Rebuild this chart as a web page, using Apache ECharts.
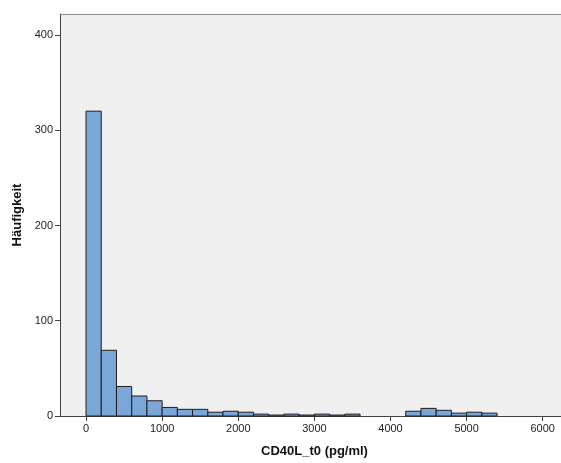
<!DOCTYPE html>
<html>
<head>
<meta charset="utf-8">
<script src="https://cdn.jsdelivr.net/npm/echarts@6/dist/echarts.min.js"></script>
<style>
  html, body { margin: 0; padding: 0; background: #fff; }
  #hist { width: 561px; height: 463px; }
</style>
</head>
<body>
<div id="hist"></div>
<script>
// histogram bins (width 200 pg/ml), counts
var binWidth = 200;
var binStarts = [0, 200, 400, 600, 800, 1000, 1200, 1400, 1600, 1800, 2000, 2200, 2400, 2600,
                 2800, 3000, 3200, 3400, 3600, 3800, 4000, 4200, 4400, 4600, 4800, 5000, 5200];
var counts = [320, 69, 31, 21, 16, 9, 7, 7, 4, 5, 4, 2, 1, 2,
              1, 2, 1, 2, 0, 0, 0, 5, 8, 6, 3, 4, 3];
var xTicks = [0, 1000, 2000, 3000, 4000, 5000, 6000];
var yTicks = [0, 100, 200, 300, 400];

var font = "'Liberation Sans', Arial, sans-serif";
var xMin = -342, xMax = 6240;

var data = [];
for (var i = 0; i < binStarts.length; i++) {
  if (counts[i] > 0) data.push([binStarts[i], counts[i]]);
}

var myChart = echarts.init(document.getElementById('hist'));

var option = {
  animation: false,
  grid: {
    left: 60, top: 14, right: 0, bottom: 45,
    show: true,
    backgroundColor: '#f0f0f0',
    borderWidth: 0
  },
  xAxis: [{
    type: 'value',
    min: xMin,
    max: xMax,
    name: 'CD40L_t0 (pg/ml)',
    nameLocation: 'middle',
    nameGap: 29,
    nameTextStyle: { fontFamily: font, fontSize: 13, fontWeight: 'bold', color: '#111', padding: [0, 0, 0, 8] },
    axisLine: { show: true, onZero: false, lineStyle: { color: '#444', width: 1 } },
    axisTick: { show: true, length: 5, customValues: xTicks, lineStyle: { color: '#444' } },
    axisLabel: { customValues: xTicks, formatter: function (v) { return String(v); },
                 fontFamily: font, fontSize: 11, color: '#222', margin: 7 },
    splitLine: { show: false }
  }, {
    // top frame line only
    type: 'value',
    position: 'top',
    min: xMin,
    max: xMax,
    axisLine: { show: true, onZero: false, lineStyle: { color: '#8a8a8a', width: 1 } },
    axisTick: { show: false },
    axisLabel: { show: false },
    splitLine: { show: false }
  }],
  yAxis: {
    type: 'value',
    min: 0,
    max: 422,
    name: 'Häufigkeit',
    nameLocation: 'middle',
    nameGap: 33,
    nameTextStyle: { fontFamily: font, fontSize: 13, fontWeight: 'bold', color: '#111' },
    axisLine: { show: true, onZero: false, lineStyle: { color: '#444', width: 1 } },
    axisTick: { show: true, length: 5, customValues: yTicks, lineStyle: { color: '#444' } },
    axisLabel: { customValues: yTicks, formatter: function (v) { return String(v); },
                 fontFamily: font, fontSize: 11, color: '#222', margin: 7 },
    splitLine: { show: false }
  },
  series: [{
    type: 'custom',
    xAxisIndex: 0,
    data: data,
    encode: { x: 0, y: 1 },
    renderItem: function (params, api) {
      var x0 = api.value(0);
      var c = api.value(1);
      var p0 = api.coord([x0, c]);
      var p1 = api.coord([x0 + binWidth, 0]);
      return {
        type: 'rect',
        shape: { x: p0[0], y: p0[1], width: p1[0] - p0[0], height: p1[1] - p0[1] },
        style: { fill: '#7aa7d8', stroke: '#1e1e1e', lineWidth: 1 }
      };
    }
  }]
};
myChart.setOption(option);
</script>
</body>
</html>
